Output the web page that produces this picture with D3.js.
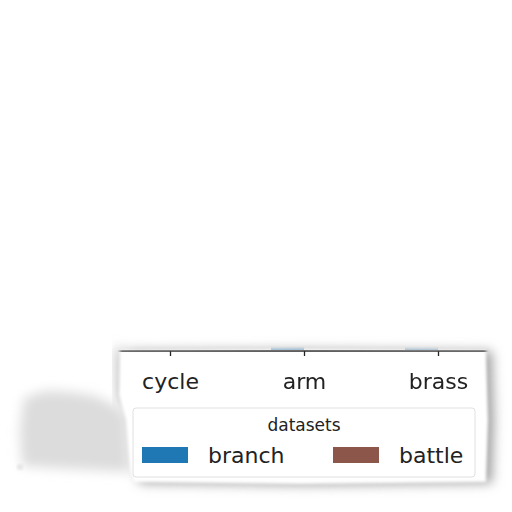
<!DOCTYPE html>
<html>
<head>
<meta charset="utf-8">
<script src="https://cdn.jsdelivr.net/npm/d3@7"></script>
<style>
  body { margin: 0; background: #fff; }
  text { font-family: "DejaVu Sans", sans-serif; fill: #222; }
</style>
</head>
<body>
<div id="chart"></div>
<script>
// data
var categories = ["cycle", "arm", "brass"];
var seriesNames = ["branch", "battle"];
var branchValues = [0, 6, 4];
var battleValues = [0, 0, 0];
var colors = ["#1f77b4", "#8c564b"];

var W = 512, H = 512;
var svg = d3.select("#chart").append("svg")
	.attr("width", W).attr("height", H);

svg.append("rect").attr("width", W).attr("height", H).attr("fill", "#fff");

var defs = svg.append("defs");
defs.append("filter").attr("id", "soft")
	.attr("x", "-30%").attr("y", "-30%").attr("width", "160%").attr("height", "160%")
	.append("feGaussianBlur").attr("stdDeviation", 6);
defs.append("filter").attr("id", "edge")
	.attr("x", "-10%").attr("y", "-10%").attr("width", "120%").attr("height", "120%")
	.append("feGaussianBlur").attr("stdDeviation", 1.5);

// torn piece outline
var paper = "M120,350 L300,349 L486,350 L488,420 L486,482 L300,484 L134,482 L130,470 L126,420 L119,395 Z";
var blob = "M24,398 L45,391 L70,392 L95,396 L112,404 L126,414 L130,472 L95,470 L55,468 L22,466 L20,430 Z";

// shadows
svg.append("path").attr("d", blob).attr("fill", "#dcdcdc").attr("filter", "url(#soft)");
svg.append("circle").attr("cx", 20).attr("cy", 467).attr("r", 3).attr("fill", "#e4e4e4").attr("filter", "url(#edge)");
svg.append("path").attr("d", paper).attr("fill", "#a0a0a0")
	.attr("transform", "translate(6,1)").attr("filter", "url(#soft)");
svg.append("path").attr("d", "M116,348 L122,348 L128,405 L118,400 Z")
	.attr("fill", "#b8b8b8").attr("filter", "url(#soft)");

var mask = defs.append("mask").attr("id", "paperMask");
mask.append("path").attr("d", paper).attr("fill", "#fff").attr("filter", "url(#edge)");

var g = svg.append("g").attr("mask", "url(#paperMask)");
g.append("rect").attr("x", 100).attr("y", 330).attr("width", 400).attr("height", 170).attr("fill", "#fff");

// scales
var x0 = d3.scalePoint().domain(categories).range([170, 438]);
var bw = 33;
var y = d3.scaleLinear().domain([0, 8]).range([350, 40]);

var series = [branchValues, battleValues];
series.forEach(function(vals, s) {
	g.selectAll(".bar" + s).data(vals).enter().append("rect")
		.attr("x", function(d, i) { return x0(categories[i]) + (s === 0 ? -bw : 0); })
		.attr("y", function(d) { return y(d); })
		.attr("width", bw)
		.attr("height", function(d) { return y(0) - y(d); })
		.attr("fill", colors[s]).attr("opacity", 0.5);
});

// axis
var ax = g.append("g").attr("transform", "translate(0,351)")
	.call(d3.axisBottom(x0).tickSize(5).tickPadding(17));
ax.select(".domain").attr("d", "M100,0H500").attr("stroke", "#222").attr("stroke-width", 1.3);
ax.selectAll(".tick line").attr("stroke", "#222").attr("stroke-width", 1.3);
ax.selectAll(".tick text").attr("font-size", 22).attr("font-family", "DejaVu Sans").attr("fill", "#222");

// legend
var lg = g.append("g");
lg.append("rect").attr("x", 133).attr("y", 408).attr("width", 342).attr("height", 69)
	.attr("rx", 3).attr("fill", "#fff").attr("stroke", "#e0e0e0");
lg.append("text").attr("x", 304).attr("y", 431).attr("text-anchor", "middle")
	.attr("font-size", 17).text("datasets");
var items = lg.selectAll(".item").data(seriesNames).enter().append("g")
	.attr("transform", function(d, i) { return "translate(" + (142 + i * 191) + ",447)"; });
items.append("rect").attr("width", 46).attr("height", 16)
	.attr("fill", function(d, i) { return colors[i]; });
items.append("text").attr("x", 66).attr("y", 16).attr("font-size", 22).text(function(d) { return d; });
</script>
</body>
</html>
